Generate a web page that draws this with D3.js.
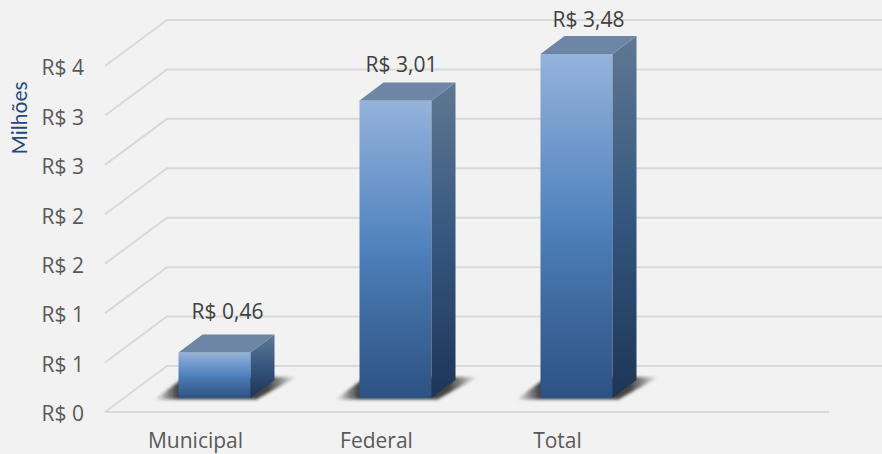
<!DOCTYPE html>
<html>
<head>
<meta charset="utf-8">
<script src="https://cdn.jsdelivr.net/npm/d3@7"></script>
<style>
html, body { margin: 0; padding: 0; background: #f2f2f2; overflow: hidden; }
text { font-family: "Open Sans", sans-serif; }
</style>
</head>
<body>
<div id="chart"></div>
<script>
// chart data
const categories = ["Municipal", "Federal", "Total", ""];
const valueCategories = ["Municipal", "Federal", "Total"];
const values = [0.46, 3.01, 3.48];
const valueLabels = ["R$ 0,46", "R$ 3,01", "R$ 3,48"];
const yTicks = [0, 0.5, 1, 1.5, 2, 2.5, 3, 3.5];

const width = 882, height = 454;

// the fake 3d box: floor depth and bar depth
const floorDx = 62, floorDy = -46;
const barDx = 24, barDy = -18;
const barWidth = 72;

const svg = d3.select("#chart").append("svg")
    .attr("width", width)
    .attr("height", height)
    .style("display", "block");

const x = d3.scaleBand().domain(categories).range([105, 829]);
const y = d3.scaleLinear().domain([0, 3.5]).range([412, 66]);

const defs = svg.append("defs");

function vGradient(id, stops) {
    const g = defs.append("linearGradient").attr("id", id)
        .attr("x1", 0).attr("y1", 0).attr("x2", 0).attr("y2", 1);
    stops.forEach(s => g.append("stop").attr("offset", s[0]).attr("stop-color", s[1]));
}
vGradient("frontFill", [[0, "#95b3dc"], [0.5, "#4f81bd"], [0.62, "#4674ab"], [1, "#2d5283"]]);
vGradient("sideFill", [[0, "#5f7892"], [0.5, "#35567f"], [1, "#1d3557"]]);

const shadowGrad = defs.append("linearGradient").attr("id", "shadowFill");
[[0, 0], [0.16, 0.8], [0.8, 0.8], [1, 0]].forEach(s => {
    shadowGrad.append("stop").attr("offset", s[0])
        .attr("stop-color", "#1a1a1a").attr("stop-opacity", s[1]);
});
defs.append("filter").attr("id", "soft")
    .attr("x", "-10%").attr("y", "-30%").attr("width", "120%").attr("height", "160%")
    .append("feGaussianBlur").attr("stdDeviation", 1.6);

// gridlines, back wall plus the diagonal on the left wall
const grid = svg.append("g").attr("fill", "none").attr("stroke", "#d9d9d9").attr("stroke-width", 2);
yTicks.forEach(t => {
    grid.append("path")
        .attr("d", d3.line()([
            [x.range()[0], y(t)],
            [x.range()[0] + floorDx, y(t) + floorDy],
            [x.range()[1] + floorDx, y(t) + floorDy]
        ]));
});
grid.append("line")
    .attr("x1", x.range()[0]).attr("x2", x.range()[1])
    .attr("y1", y(0)).attr("y2", y(0));

// axes
const axisStyle = g => {
    g.select(".domain").remove();
    g.selectAll(".tick line").remove();
    g.selectAll("text").attr("fill", "#595959").attr("font-size", 21);
};

svg.append("g")
    .attr("transform", "translate(84,2)")
    .call(d3.axisLeft(y).tickValues(yTicks).tickSize(0).tickPadding(0)
        .tickFormat(d => "R$ " + Math.ceil(d)))
    .call(axisStyle);

svg.append("g")
    .attr("transform", "translate(0,433)")
    .call(d3.axisBottom(x).tickValues(valueCategories).tickSize(0).tickPadding(0))
    .call(axisStyle);

svg.append("text")
    .attr("transform", "translate(27,118) rotate(-90)")
    .attr("text-anchor", "middle")
    .attr("fill", "#1f497d")
    .attr("font-size", 21)
    .style("font-family", "Lato, sans-serif")
    .text("Milhões");

// bars
const barLeft = d => x(d) + x.bandwidth() / 2 - barWidth / 2 + 19;
const barBase = y(0) - 14;
const barTop = v => barBase - (y(0) - y(v));

const bars = svg.selectAll(".bar")
    .data(valueCategories.map((c, i) => ({c, v: values[i], label: valueLabels[i], i})))
    .enter().append("g")
    .attr("class", "bar");

bars.append("polygon")
    .attr("fill", "url(#shadowFill)")
    .attr("filter", "url(#soft)")
    .attr("points", d => {
        const l = barLeft(d.c), r = l + barWidth;
        return [[l - 24, barBase + 1.5], [l + 6, barBase - 21], [r + 46, barBase - 21], [r + 6, barBase + 1.5]].join(" ");
    });

bars.append("rect")
    .attr("x", d => barLeft(d.c))
    .attr("y", d => barTop(d.v))
    .attr("width", barWidth)
    .attr("height", d => barBase - barTop(d.v))
    .attr("fill", "url(#frontFill)");

bars.append("polygon")
    .attr("fill", "url(#sideFill)")
    .attr("points", d => {
        const r = barLeft(d.c) + barWidth, t = barTop(d.v);
        return [[r, t], [r + barDx, t + barDy], [r + barDx, barBase + barDy], [r, barBase]].join(" ");
    });

bars.append("polygon")
    .attr("fill", "#6e86a5")
    .attr("points", d => {
        const l = barLeft(d.c), t = barTop(d.v);
        return [[l, t], [l + barDx, t + barDy], [l + barWidth + barDx, t + barDy], [l + barWidth, t]].join(" ");
    });

// value labels are not placed evenly in the original, so nudge each one
const labelLift = [16, 10, 9];
const labelShift = [0, -7, -1];
bars.append("text")
    .attr("x", d => barLeft(d.c) + barWidth / 2 + barDx / 2 + 1 + labelShift[d.i])
    .attr("y", d => barTop(d.v) + barDy - labelLift[d.i])
    .attr("text-anchor", "middle")
    .attr("fill", "#404040")
    .attr("font-size", 21)
    .text(d => d.label);
</script>
</body>
</html>
